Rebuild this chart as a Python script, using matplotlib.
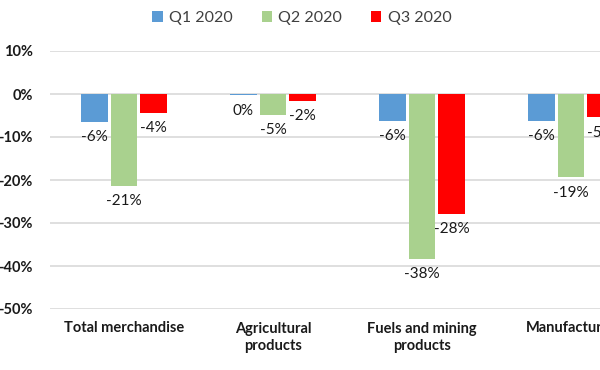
import numpy as np
import matplotlib
matplotlib.use("Agg")
import matplotlib.pyplot as plt

# ---- data (percent change) ----
categories = ["Total merchandise", "Agricultural\nproducts",
              "Fuels and mining\nproducts", "Manufactures"]
series_names = ["Q1 2020", "Q2 2020", "Q3 2020"]
q1 = [-6.5, -0.3, -6.3, -6.3]
q2 = [-21.4, -4.9, -38.4, -19.4]
q3 = [-4.4, -1.6, -27.9, -5.4]
colors = ["#5B9BD5", "#A9D18E", "#FF0000"]
yticks = [10, 0, -10, -20, -30, -40, -50]

plt.rcParams["font.family"] = ["Lato", "DejaVu Sans"]

fig = plt.figure(figsize=(6, 3.7), dpi=100)
# axes deliberately runs past the right edge (the source image is cropped)
ax = fig.add_axes([49.5 / 600, 61 / 370, 596 / 600, 258 / 370])

x = np.arange(len(categories))
width = 0.18
step = 0.2
for i, (vals, name, c) in enumerate(zip([q1, q2, q3], series_names, colors)):
    bars = ax.bar(x + (i - 1) * step, vals, width, color=c, label=name, zorder=3)
    ax.bar_label(bars, labels=[f"{round(v)}%" for v in vals], padding=6,
                 fontsize=11, color="#1a1a1a")

ax.set_xlim(-0.5, 3.5)
ax.set_ylim(-50, 10)
ax.set_yticks(yticks)
ax.set_yticklabels([f"{t}%" for t in yticks], fontweight="bold", fontsize=10.5,
                   color="#1a1a1a")
ax.set_xticks(x)
ax.set_xticklabels(categories, fontweight="bold", fontsize=10.5, color="#1a1a1a",
                   linespacing=1.3)
ax.tick_params(axis="both", length=0)
ax.tick_params(axis="y", pad=12)
ax.tick_params(axis="x", pad=9)
ax.grid(axis="y", color="#d9d9d9", linewidth=1.2, zorder=0)
for s in ax.spines.values():
    s.set_visible(False)

fig.legend(loc="center", bbox_to_anchor=(302 / 600, 1 - 18 / 370), ncol=3,
           frameon=False, fontsize=11.5, handlelength=0.65, handleheight=0.65,
           handletextpad=0.4, columnspacing=1.8, labelcolor="#404040")

fig.savefig("out.png", dpi=100)
